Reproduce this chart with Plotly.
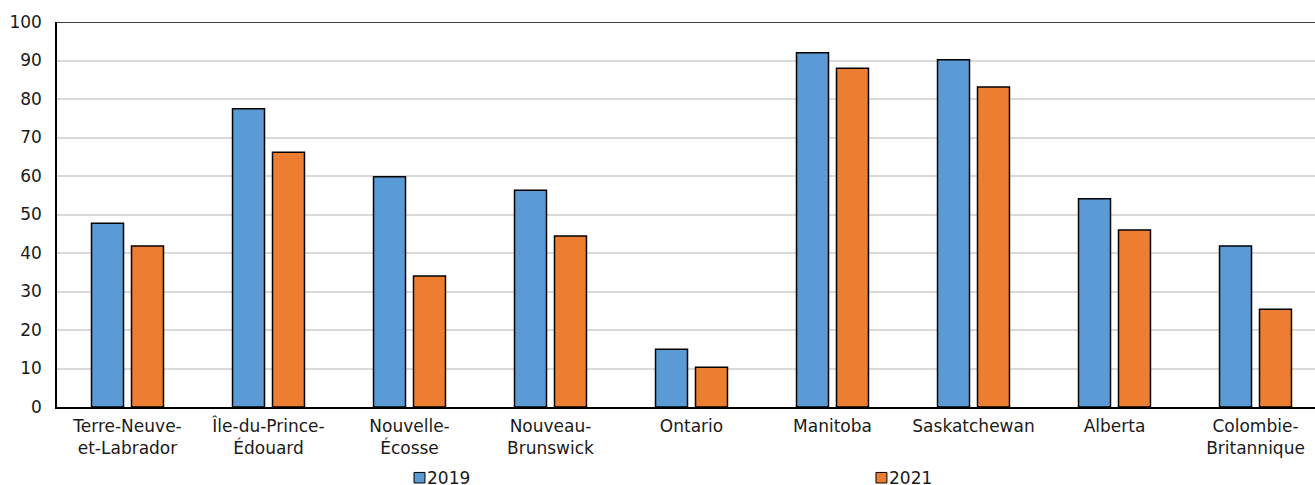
import plotly.graph_objects as go

provinces = [
    "Terre-Neuve-<br>et-Labrador",
    "Île-du-Prince-<br>Édouard",
    "Nouvelle-<br>Écosse",
    "Nouveau-<br>Brunswick",
    "Ontario",
    "Manitoba",
    "Saskatchewan",
    "Alberta",
    "Colombie-<br>Britannique",
]
values_2019 = [47.7, 77.5, 59.8, 56.3, 15.0, 92.0, 90.2, 54.1, 41.8]
values_2021 = [41.8, 66.2, 34.0, 44.4, 10.3, 88.0, 83.1, 46.0, 25.4]
series_names = ["2019", "2021"]
y_ticks = [0, 10, 20, 30, 40, 50, 60, 70, 80, 90, 100]

BLUE = "#5B9BD5"
ORANGE = "#ED7D31"
FONT = "DejaVu Sans"
FS = 17
TEXT = "#1a1a1a"

fig = go.Figure()
for name, vals, color in zip(series_names, [values_2019, values_2021], [BLUE, ORANGE]):
    fig.add_trace(go.Bar(
        x=provinces, y=vals, name=name,
        marker=dict(color=color, line=dict(color="#000000", width=1.5)),
        showlegend=False,
    ))

fig.update_layout(
    width=1315, height=485,
    margin=dict(l=57, r=0, t=22, b=78),
    paper_bgcolor="white", plot_bgcolor="white",
    barmode="group", bargap=0.433, bargroupgap=0.2,
    font=dict(family=FONT, size=FS, color=TEXT),
)
# the last category runs slightly past the right edge of the page
fig.update_xaxes(
    range=[-0.5, 8.422],
    showline=True, linecolor="#000000", linewidth=1.5,
    showgrid=False, ticks="", tickfont=dict(size=FS),
    ticklabelstandoff=3,
)
fig.update_yaxes(
    range=[0, 100], tickvals=y_ticks, ticks="",
    showline=True, linecolor="#000000", linewidth=1.5,
    showgrid=True, gridcolor="#D9D9D9", gridwidth=1.5,
    zeroline=False, tickfont=dict(size=FS), ticklabelstandoff=10,
)

# top border of the plot area
fig.add_shape(type="line", xref="paper", yref="y", x0=0, x1=1, y0=100, y1=100,
              line=dict(color="#000000", width=1.5))

# legend: small outlined squares with labels beneath the axis
legend_pos = [(0.2838, BLUE, "2019"), (0.651, ORANGE, "2021")]
for xp, color, label in legend_pos:
    fig.add_shape(type="rect", xref="paper", yref="paper",
                  x0=xp, x1=xp + 0.0087, y0=-0.17, y1=-0.1974,
                  fillcolor=color, line=dict(color="#000000", width=1))
    fig.add_annotation(xref="paper", yref="paper", x=xp + 0.0087, y=-0.184,
                       text=label, showarrow=False, xanchor="left", yanchor="middle",
                       font=dict(family=FONT, size=FS, color=TEXT))

fig.write_html("out.html")
